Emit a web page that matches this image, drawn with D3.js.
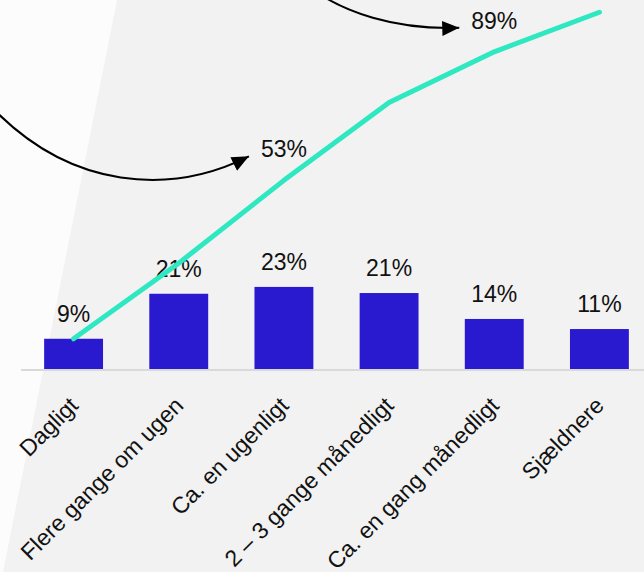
<!DOCTYPE html>
<html>
<head>
<meta charset="utf-8">
<script src="https://cdn.jsdelivr.net/npm/d3@7"></script>
<style>
  html, body { margin: 0; padding: 0; background: #f2f2f2; }
  svg { display: block; font-family: "Liberation Sans", Arial, sans-serif; }
</style>
</head>
<body>
<svg id="chart" width="644" height="572"></svg>
<script>
// data
var categories = ["Dagligt", "Flere gange om ugen", "Ca. en ugenligt",
  "2 – 3 gange månedligt", "Ca. en gang månedligt", "Sjældnere"];
var shares = [8.4, 20.9, 22.8, 21.1, 13.9, 11.1];
var shareLabels = ["9%", "21%", "23%", "21%", "14%", "11%"];
var cumulative = [8.4, 29.4, 52.4, 74.0, 88.1, 99.1];
var cumulativeLabels = [null, null, "53%", null, "89%", null];

var W = 644, H = 572;
var svg = d3.select("#chart");

// background: lighter slanted panel on the left
svg.append("rect").attr("width", W).attr("height", H).attr("fill", "#f2f2f2");
svg.append("path").attr("d", "M0,0 L117,0 L3," + H + " L0," + H + " Z")
  .attr("fill", "#fcfcfc");

var x = d3.scaleBand().domain(categories)
  .range([21, 652]).paddingInner(0.44).paddingOuter(0.22);
var y = d3.scaleLinear().domain([0, 100]).range([369, 9]);
var cx = function(d, i){ return x(categories[i]) + x.bandwidth() / 2; };

// baseline
svg.append("line")
  .attr("x1", 21).attr("x2", W)
  .attr("y1", y(0) + 1).attr("y2", y(0) + 1)
  .attr("stroke", "#d9d9d9").attr("stroke-width", 2);

// bars
svg.append("g").selectAll("rect").data(shares).join("rect")
  .attr("x", function(d, i){ return x(categories[i]); })
  .attr("y", function(d){ return y(d); })
  .attr("width", x.bandwidth())
  .attr("height", function(d){ return y(0) - y(d); })
  .attr("fill", "#2a1acf");

// bar labels
svg.append("g").selectAll("text").data(shares).join("text")
  .attr("x", cx)
  .attr("y", function(d){ return y(d) - 17; })
  .attr("text-anchor", "middle")
  .attr("font-size", 23)
  .attr("fill", "#111")
  .text(function(d, i){ return shareLabels[i]; });

// category labels
svg.append("g").selectAll("text").data(categories).join("text")
  .attr("transform", function(d){
    var px = x(d) + x.bandwidth() / 2;
    return "translate(" + (px + 6) + "," + (y(0) + 38) + ") rotate(-45)";
  })
  .attr("text-anchor", "end")
  .attr("font-size", 23)
  .attr("fill", "#111")
  .text(function(d){ return d; });

// cumulative line
var line = d3.line().x(cx).y(function(d){ return y(d); });
svg.append("path").datum(cumulative)
  .attr("d", line)
  .attr("fill", "none")
  .attr("stroke", "#2de8c0")
  .attr("stroke-width", 5)
  .attr("stroke-linecap", "round")
  .attr("stroke-linejoin", "round");

// arrow head
svg.append("defs").append("marker")
  .attr("id", "arrow")
  .attr("markerUnits", "userSpaceOnUse")
  .attr("markerWidth", 18).attr("markerHeight", 16)
  .attr("refX", 17).attr("refY", 7.5)
  .attr("orient", "auto")
  .append("path").attr("d", "M0,0 L17,7.5 L0,15 Z").attr("fill", "#000");

// cumulative labels with curved arrows
var notes = cumulative.map(function(d, i){
  return { i: i, v: d, label: cumulativeLabels[i] };
}).filter(function(d){ return d.label; });

var g = svg.append("g");
notes.forEach(function(n, k){
  var lx = cx(n.v, n.i), ly = y(n.v) - 23;
  g.append("text")
    .attr("x", lx).attr("y", ly)
    .attr("text-anchor", "middle")
    .attr("font-size", 23)
    .attr("fill", "#111")
    .text(n.label);
  var tx = lx - 35, ty = ly - 1;
  var d;
  if (k === 0) {
    d = "M" + (tx - 258) + "," + (ty - 50) +
      " C" + (tx - 178) + "," + (ty + 34) + " " + (tx - 78) + "," + (ty + 39) +
      " " + tx + "," + ty;
  } else {
    d = "M" + (tx - 155) + "," + (ty - 45) +
      " C" + (tx - 118) + "," + (ty - 14) + " " + (tx - 61) + "," + (ty + 2) +
      " " + tx + "," + ty;
  }
  g.append("path").attr("d", d)
    .attr("fill", "none").attr("stroke", "#000").attr("stroke-width", 2)
    .attr("marker-end", "url(#arrow)");
});
</script>
</body>
</html>
